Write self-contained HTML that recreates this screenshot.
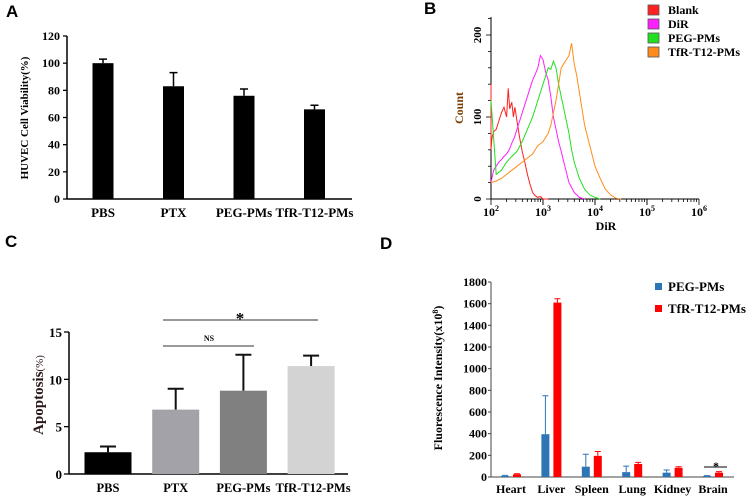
<!DOCTYPE html>
<html><head><meta charset="utf-8"><style>
html,body{margin:0;padding:0;background:#fff;}
svg{display:block;font-family:"Liberation Serif",serif;font-weight:bold;}
.pl{font-family:"Liberation Sans",sans-serif;font-weight:bold;font-size:17px;}
</style></head><body>
<svg id="fig" width="753" height="496" viewBox="0 0 753 496" xmlns="http://www.w3.org/2000/svg">
<text class="pl" x="6" y="17">A</text>
<text class="pl" x="424" y="14">B</text>
<text class="pl" x="5" y="247">C</text>
<text class="pl" x="380" y="249">D</text>
<g id="A"></g>
<g id="B"></g>
<g id="C"></g>
<g id="D"></g>
</svg>
<script>
// Panel A data
const aCats=["PBS","PTX","PEG-PMs","TfR-T12-PMs"];
const aVals=[100,83,76,66];
const aErr=[3,10,5,3];
const aTicks=[0,20,40,60,80,100,120];
// Panel B data (log10 DiR, count)
const bSeriesNames=["Blank","DiR","PEG-PMs","TfR-T12-PMs"];
const bBlankX=[2.0,2.0,2.02,2.05,2.1,2.15,2.2,2.25,2.3,2.33,2.36,2.4,2.43,2.46,2.5,2.55,2.6,2.65,2.7,2.75,2.8,2.85,2.9,2.95,3.0,3.1];
const bBlankY=[140,60,75,82,85,95,105,112,100,135,110,118,100,112,95,75,58,45,30,18,8,4,2,3,0,0];
const bDirX=[2.0,2.05,2.1,2.15,2.2,2.25,2.3,2.35,2.4,2.45,2.5,2.55,2.6,2.65,2.7,2.75,2.8,2.85,2.9,2.95,3.0,3.05,3.1,3.15,3.2,3.25,3.3,3.35,3.4,3.5,3.6,3.7,3.8];
const bDirY=[20,35,40,45,48,52,55,60,68,75,85,95,105,115,125,135,145,152,160,175,170,155,145,125,100,85,70,58,45,20,8,2,0];
const bPegX=[2.0,2.1,2.2,2.3,2.4,2.5,2.6,2.7,2.8,2.9,3.0,3.05,3.1,3.15,3.2,3.25,3.3,3.35,3.4,3.45,3.5,3.55,3.6,3.7,3.8,3.9,4.0,4.1];
const bPegY=[120,30,35,45,52,58,70,85,100,120,140,150,160,158,168,160,140,125,110,95,80,60,45,25,12,5,2,0];
const bTfrX=[2.0,2.1,2.2,2.3,2.4,2.5,2.6,2.7,2.8,2.9,3.0,3.1,3.15,3.2,3.25,3.3,3.35,3.4,3.45,3.5,3.55,3.6,3.65,3.7,3.8,3.9,4.0,4.1,4.2,4.3,4.4,4.5];
const bTfrY=[20,22,25,30,35,40,45,50,55,65,70,80,90,105,120,140,160,165,170,175,190,165,150,130,90,65,40,25,12,5,1,0];
const bTicks=[0,100,200];
const bXTicks=[2,3,4,5,6];
// Panel C data
const cCats=["PBS","PTX","PEG-PMs","TfR-T12-PMs"];
const cVals=[2.3,6.8,8.8,11.4];
const cErr=[0.6,2.2,3.8,1.1];
const cTicks=[0,5,10,15];
// Panel D data
const dCats=["Heart","Liver","Spleen","Lung","Kidney","Brain"];
const dPeg=[10,395,95,45,40,10];
const dPegErr=[5,355,115,55,25,3];
const dTfr=[25,1610,195,120,85,40];
const dTfrErr=[5,35,40,15,10,10];
const dTicks=[0,200,400,600,800,1000,1200,1400,1600,1800];

const NS="http://www.w3.org/2000/svg";
function mk(parent,tag,attrs,text){const e=document.createElementNS(NS,tag);for(const k in attrs)e.setAttribute(k,attrs[k]);if(text!==undefined)e.textContent=text;parent.appendChild(e);return e;}

// ---------- A ----------
(function(){
const g=document.getElementById('A');
const y=v=>199-v*163/120;
const xc=i=>103+i*70.5;
mk(g,'line',{x1:67,y1:y(120),x2:67,y2:199,stroke:'#000','stroke-width':1.5});
mk(g,'line',{x1:67,y1:199,x2:352,y2:199,stroke:'#000','stroke-width':1.5});
aTicks.forEach(t=>{
 const l=mk(g,'line',{x1:63,y1:y(t),x2:67,y2:y(t),stroke:'#000','stroke-width':1.3});
 
 
 const tx=mk(g,'text',{x:60,y:y(t)+4,'text-anchor':'end','font-size':12},t);
 
 
});
aCats.forEach((c,i)=>{
 const v=aVals[i],e=aErr[i],x=xc(i);
 const eb=mk(g,'path',{d:`M${x} ${y(v)}V${y(v+e)}M${x-4} ${y(v+e)}H${x+4}`,stroke:'#000','stroke-width':1.5,fill:'none'});
 
 
 const r=mk(g,'rect',{x:x-10.5,y:y(v),width:21,height:199-y(v),fill:'#000'});
 
 
 const t=mk(g,'text',{x:x,y:217,'text-anchor':'middle','font-size':13},c);
 
 
});
const tt=mk(g,'text',{transform:'translate(28,118) rotate(-90)','text-anchor':'middle','font-size':11},'HUVEC Cell Viability(%)');


})();

// ---------- B ----------
(function(){
const g=document.getElementById('B');
const X=l=>491+(l-2)*52;
const Y=v=>199-v*164/200;
mk(g,'line',{x1:491,y1:17,x2:491,y2:199,stroke:'#000','stroke-width':1});
mk(g,'line',{x1:491,y1:199,x2:699,y2:199,stroke:'#000','stroke-width':1});
for(let v=0;v<=220;v+=20){
 const l=mk(g,'line',{x1:v%100==0?486:488,y1:Y(v),x2:491,y2:Y(v),stroke:'#000','stroke-width':0.8});
 
 
}
bTicks.forEach(t=>{
 const tx=mk(g,'text',{transform:`translate(481,${Y(t)}) rotate(-90)`,'text-anchor':'middle','font-size':11},t);
 
 
});
for(let d=2;d<6;d++)for(let k=1;k<=10;k++){
 const lx=X(d+Math.log10(k));
 const l=mk(g,'line',{x1:lx,y1:199,x2:lx,y2:k==1||k==10?205:202,stroke:'#000','stroke-width':0.8});
 
 
}
bXTicks.forEach(d=>{
 const t=mk(g,'text',{x:X(d),y:216,'text-anchor':'middle','font-size':12});
 
 
 mk(t,'tspan',{},'10');mk(t,'tspan',{dy:-5,'font-size':8},d);
});
const series=[[bBlankX,bBlankY,'#ff2020'],[bDirX,bDirY,'#ff20ff'],[bPegX,bPegY,'#20e020'],[bTfrX,bTfrY,'#ff8c1a']];
series.forEach((s,i)=>{
 const d=s[0].map((l,j)=>(j?'L':'M')+X(l).toFixed(1)+' '+Y(s[1][j]).toFixed(1)).join('');
 const p=mk(g,'path',{d:d,stroke:s[2],'stroke-width':1,fill:'none'});
 
 
 const r=mk(g,'rect',{x:648,y:5+i*14,width:11,height:10,fill:s[2],stroke:'#555','stroke-width':0.8});
 
 
 const t=mk(g,'text',{x:668,y:14+i*14,'font-size':12},bSeriesNames[i]);
 
 
});
const yt=mk(g,'text',{transform:'translate(463,108) rotate(-90)','text-anchor':'middle','font-size':12,fill:'#7a3c00'},'Count');


const xt=mk(g,'text',{x:606,y:230,'text-anchor':'middle','font-size':12},'DiR');


})();

// ---------- C ----------
(function(){
const g=document.getElementById('C');
const y=v=>474-v*142/15;
const xc=i=>108+i*67.7;
const cols=['#000','#a2a2a8','#808080','#d3d3d3'];
mk(g,'line',{x1:69,y1:y(15),x2:69,y2:474,stroke:'#000','stroke-width':1.5});
mk(g,'line',{x1:69,y1:474,x2:348,y2:474,stroke:'#000','stroke-width':1.5});
cTicks.forEach(t=>{
 const l=mk(g,'line',{x1:64,y1:y(t),x2:69,y2:y(t),stroke:'#000','stroke-width':1.3});
 
 
 const tx=mk(g,'text',{x:62,y:y(t)+5,'text-anchor':'end','font-size':13},t);
 
 
});
cCats.forEach((c,i)=>{
 const v=cVals[i],e=cErr[i],x=xc(i);
 const eb=mk(g,'path',{d:`M${x} ${y(v)}V${y(v+e)}M${x-8} ${y(v+e)}H${x+8}`,stroke:'#111','stroke-width':2,fill:'none'});
 
 
 const r=mk(g,'rect',{x:x-23.5,y:y(v),width:47,height:474-y(v),fill:cols[i]});
 
 
 const t=mk(g,'text',{x:x+(i==3?2:0),y:492,'text-anchor':'middle','font-size':12.5},c);
 
 
});
mk(g,'line',{x1:163,y1:346,x2:254,y2:346,stroke:'#333','stroke-width':1});
const ns=mk(g,'text',{x:209,y:341,'text-anchor':'middle','font-size':8},'NS');


mk(g,'line',{x1:163,y1:320,x2:318,y2:320,stroke:'#333','stroke-width':1});
const st=mk(g,'text',{x:240,y:324,'text-anchor':'middle','font-size':17},'*');


const yt=mk(g,'text',{transform:'translate(43,395) rotate(-90)','text-anchor':'middle','font-size':15,fill:'#2a1818'});


mk(yt,'tspan',{},'Apoptosis');mk(yt,'tspan',{'font-size':11,'font-weight':'normal'},'(%)');
})();

// ---------- D ----------
(function(){
const g=document.getElementById('D');
const y=v=>477-v*195/1800;
const xc=i=>511+i*40.4;
mk(g,'line',{x1:491,y1:y(1800),x2:491,y2:477,stroke:'#444','stroke-width':1});
mk(g,'line',{x1:491,y1:477,x2:734,y2:477,stroke:'#444','stroke-width':1});
dTicks.forEach(t=>{
 const l=mk(g,'line',{x1:488,y1:y(t),x2:491,y2:y(t),stroke:'#444','stroke-width':1});
 
 
 const tx=mk(g,'text',{x:487,y:y(t)+4,'text-anchor':'end','font-size':12},t);
 
 
});
dCats.forEach((c,i)=>{
 const x=xc(i);
 [[dPeg[i],dPegErr[i],-6,'#2e75b6','peg'],[dTfr[i],dTfrErr[i],6,'#ff0000','tfr']].forEach(s=>{
  const bx=x+s[2];
  const eb=mk(g,'path',{d:`M${bx} ${y(s[0])}V${y(s[0]+s[1])}M${bx-3} ${y(s[0]+s[1])}H${bx+3}`,stroke:s[3],'stroke-width':1,fill:'none'});
  
  
  const r=mk(g,'rect',{x:bx-4,y:y(s[0]),width:8,height:477-y(s[0]),fill:s[3]});
  
  
 });
 const t=mk(g,'text',{x:x,y:493,'text-anchor':'middle','font-size':12},c);
 
 
});
[['PEG-PMs','#2e75b6'],['TfR-T12-PMs','#ff0000']].forEach((l,i)=>{
 const r=mk(g,'rect',{x:655,y:283+i*22,width:7,height:7,fill:l[1]});
 
 
 const t=mk(g,'text',{x:668,y:291+i*22,'font-size':13},l[0]);
 
 
});
mk(g,'line',{x1:704,y1:467,x2:727,y2:467,stroke:'#000','stroke-width':1});
const st=mk(g,'text',{x:716,y:470,'text-anchor':'middle','font-size':12},'*');


const yt=mk(g,'text',{transform:'translate(442,378) rotate(-90)','text-anchor':'middle','font-size':12});


mk(yt,'tspan',{},'Fluorescence Intensity(x10');mk(yt,'tspan',{dy:-4,'font-size':8},'8');mk(yt,'tspan',{dy:4},')');
})();
</script>
</body></html>
